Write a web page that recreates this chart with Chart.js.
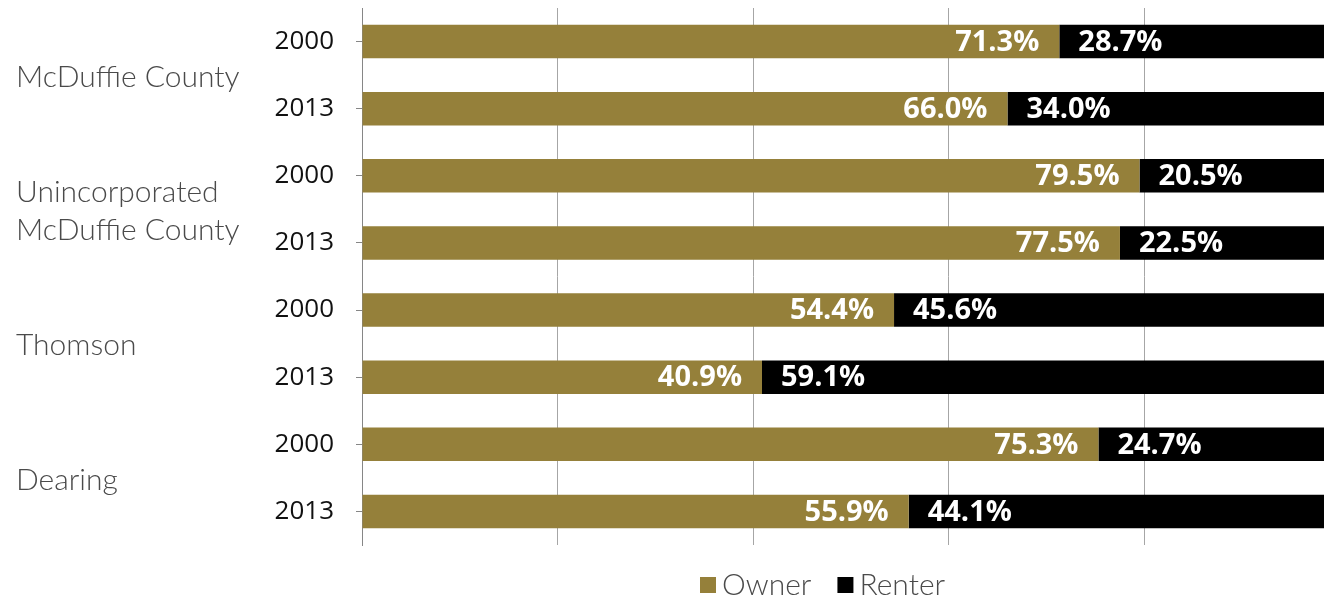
<!DOCTYPE html>
<html>
<head>
<meta charset="utf-8">
<script src="https://cdn.jsdelivr.net/npm/chart.js@4"></script>
<style>
  html, body { margin: 0; padding: 0; background: #fff; overflow: hidden; }
  #wrap { width: 1340px; height: 599px; position: relative; }
</style>
</head>
<body>
<div id="wrap"><canvas id="chart"></canvas></div>
<script>
// data
const groups = [['McDuffie County'], ['Unincorporated', 'McDuffie County'], ['Thomson'], ['Dearing']];
const years = ['2000', '2013', '2000', '2013', '2000', '2013', '2000', '2013'];
const owner = [71.3, 66.0, 79.5, 77.5, 54.4, 40.9, 75.3, 55.9];
const renter = [28.7, 34.0, 20.5, 22.5, 45.6, 59.1, 24.7, 44.1];

const gold = '#95803a';
const lightFont = "'Lato Light', Lato, 'Open Sans', sans-serif";

// draws group names, bar value labels and the legend
const extras = {
  id: 'extras',
  afterDatasetsDraw(chart) {
    const ctx = chart.ctx;
    const y = chart.scales.y;
    ctx.save();

    // values inside bars
    ctx.font = "bold 29px 'Open Sans', 'Noto Sans', sans-serif";
    ctx.fillStyle = '#fff';
    ctx.textBaseline = 'middle';
    chart.data.datasets.forEach((ds, di) => {
      chart.getDatasetMeta(di).data.forEach((bar, i) => {
        const txt = ds.data[i].toFixed(1) + '%';
        if (di === 0) {
          ctx.textAlign = 'right';
          ctx.fillText(txt, bar.x - 20, bar.y + 1);
        } else {
          ctx.textAlign = 'left';
          ctx.fillText(txt, bar.base + 19, bar.y + 1);
        }
      });
    });

    // group names on the left
    ctx.font = '300 30px ' + lightFont;
    ctx.fillStyle = '#4a4a4a';
    ctx.textAlign = 'left';
    groups.forEach((lines, g) => {
      const mid = (y.getPixelForValue(g * 2) + y.getPixelForValue(g * 2 + 1)) / 2 + 2;
      const lh = 38;
      lines.forEach((ln, k) => {
        ctx.fillText(ln, 16, mid + (k - (lines.length - 1) / 2) * lh);
      });
    });

    // legend
    ctx.font = '300 30px ' + lightFont;
    const ly = 585;
    let lx = 700;
    chart.data.datasets.forEach(ds => {
      ctx.fillStyle = ds.backgroundColor;
      ctx.fillRect(lx, ly - 8, 16, 16);
      ctx.fillStyle = '#4a4a4a';
      ctx.fillText(ds.label, lx + 22, ly);
      lx += 22 + ctx.measureText(ds.label).width + 26;
    });
    ctx.restore();
  }
};

new Chart(document.getElementById('chart'), {
  type: 'bar',
  data: {
    labels: years,
    datasets: [
      { label: 'Owner', data: owner, backgroundColor: gold },
      { label: 'Renter', data: renter, backgroundColor: '#000' }
    ]
  },
  options: {
    indexAxis: 'y',
    responsive: true,
    maintainAspectRatio: false,
    animation: false,
    layout: { padding: { top: 8, right: 0, bottom: 54, left: 0 } },
    plugins: { legend: { display: false }, tooltip: { enabled: false } },
    datasets: { bar: { categoryPercentage: 1, barPercentage: 0.5 } },
    scales: {
      x: {
        stacked: true,
        min: 0,
        max: 100,
        afterFit(s) { s.height = 0; s.paddingLeft = 0; s.paddingRight = 0; },
        ticks: { display: false, stepSize: 20 },
        grid: { color: '#a6a6a6', lineWidth: 1, drawTicks: false },
        border: { display: false }
      },
      y: {
        stacked: true,
        afterFit(s) { s.width = 362; s.paddingTop = 0; s.paddingBottom = 0; },
        ticks: { color: '#111', font: { family: "'Open Sans', 'Noto Sans', sans-serif", size: 26 }, padding: 22 },
        grid: { drawOnChartArea: false, offset: false, tickLength: 6, color: '#868686' },
        border: { display: true, color: '#868686' }
      }
    }
  },
  plugins: [extras]
});
</script>
</body>
</html>
